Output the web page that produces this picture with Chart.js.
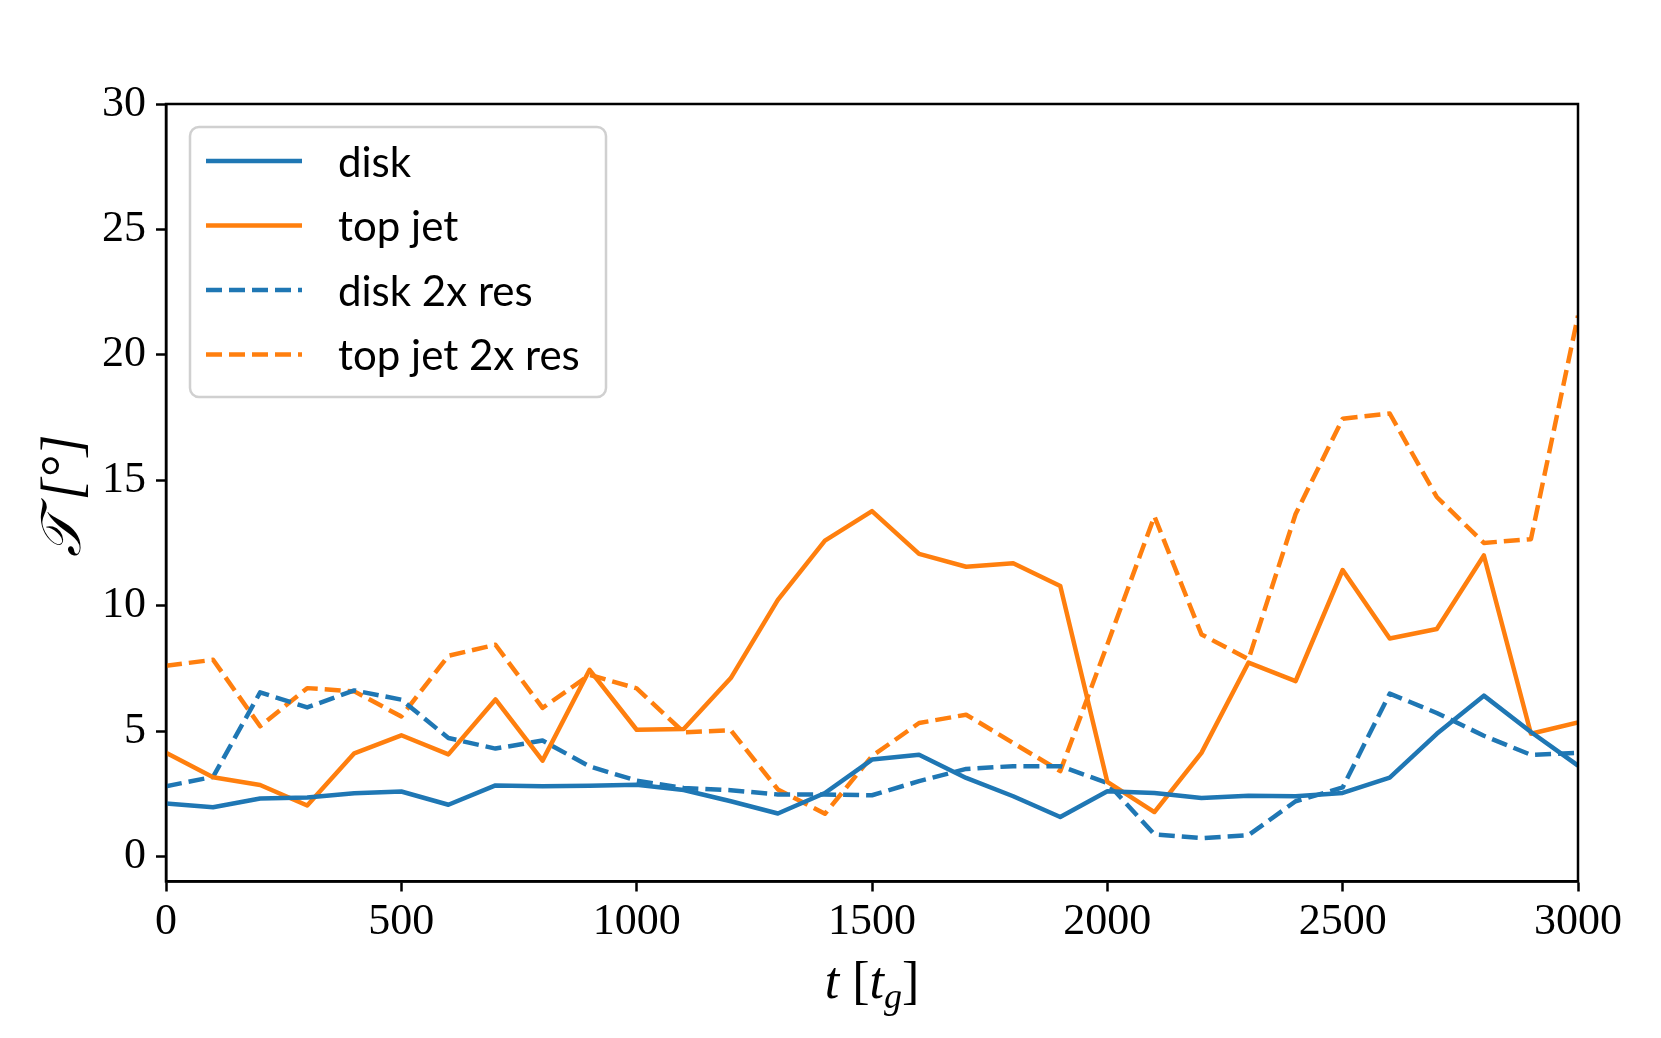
<!DOCTYPE html>
<html>
<head>
<meta charset="utf-8">
<script src="https://cdn.jsdelivr.net/npm/chart.js@4.4.1/dist/chart.umd.min.js"></script>
<style>
  html, body { margin: 0; padding: 0; background: #fff; }
  #wrap { width: 1661px; height: 1038px; }
</style>
</head>
<body>
<div id="wrap"><canvas id="chart" width="1661" height="1038"></canvas></div>
<script>
// time in t_g
const times = [0, 100, 200, 300, 400, 500, 600, 700, 800, 900, 1000,
               1100, 1200, 1300, 1400, 1500, 1600, 1700, 1800, 1900, 2000,
               2100, 2200, 2300, 2400, 2500, 2600, 2700, 2800, 2900, 3000];

// tilt angle in degrees
const disk = [2.11, 1.96, 2.31, 2.35, 2.52, 2.59, 2.06, 2.83, 2.80, 2.82, 2.86,
              2.65, 2.20, 1.71, 2.53, 3.86, 4.05, 3.13, 2.40, 1.57, 2.60,
              2.53, 2.33, 2.42, 2.40, 2.53, 3.14, 4.89, 6.41, 4.96, 3.62];
const topJet = [4.13, 3.16, 2.85, 2.03, 4.11, 4.83, 4.07, 6.26, 3.82, 7.44, 5.05,
                5.08, 7.11, 10.23, 12.59, 13.77, 12.06, 11.55, 11.69, 10.78, 2.97,
                1.77, 4.13, 7.73, 6.99, 11.42, 8.69, 9.07, 12.0, 4.89, 5.34];
const disk2x = [2.80, 3.17, 6.54, 5.94, 6.62, 6.25, 4.72, 4.30, 4.62, 3.59, 3.02,
                2.73, 2.64, 2.47, 2.47, 2.44, 3.00, 3.49, 3.60, 3.60, 2.93,
                0.88, 0.73, 0.85, 2.20, 2.75, 6.49, 5.72, 4.81, 4.05, 4.13];
const topJet2x = [7.60, 7.84, 5.19, 6.71, 6.58, 5.58, 8.00, 8.44, 5.92, 7.24, 6.70,
                  4.95, 5.03, 2.67, 1.70, 4.00, 5.32, 5.65, 4.52, 3.40, 8.45,
                  13.56, 8.85, 7.86, 13.65, 17.45, 17.66, 14.33, 12.50, 12.65, 21.56];

const xTicks = [0, 500, 1000, 1500, 2000, 2500, 3000];
const yTicks = [0, 5, 10, 15, 20, 25, 30];

const BLUE = '#1f77b4';
const ORANGE = '#ff7f0e';
const LW = 4.5;
const DASH = [16, 7];

function pts(vals) {
    return times.map((t, i) => ({ x: t, y: vals[i] }));
}

// box around the axes (matplotlib draws all four spines)
const frame = {
    id: 'frame',
    afterDraw(chart) {
        const { ctx, chartArea: a } = chart;
        ctx.save();
        ctx.strokeStyle = '#000';
        ctx.lineWidth = 2.5;
        ctx.strokeRect(a.left, a.top, a.right - a.left, a.bottom - a.top);
        ctx.restore();
    }
};

// legend box in the upper left corner
const boxLegend = {
    id: 'boxLegend',
    afterDraw(chart) {
        const ctx = chart.ctx;
        const x0 = 190, y0 = 127, w = 416, h = 270;
        ctx.save();
        ctx.fillStyle = 'rgba(255,255,255,0.8)';
        ctx.strokeStyle = '#d0d0d0';
        ctx.lineWidth = 2.5;
        ctx.beginPath();
        ctx.roundRect(x0, y0, w, h, 9);
        ctx.fill();
        ctx.stroke();
        const rows = [161, 225.5, 290, 354.5];
        ctx.font = '42px Lato';
        ctx.textBaseline = 'middle';
        chart.data.datasets.forEach((ds, i) => {
            const y = rows[i];
            ctx.strokeStyle = ds.borderColor;
            ctx.lineWidth = ds.borderWidth;
            ctx.setLineDash(ds.borderDash || []);
            ctx.beginPath();
            ctx.moveTo(206, y);
            ctx.lineTo(302, y);
            ctx.stroke();
            ctx.setLineDash([]);
            ctx.fillStyle = '#000';
            ctx.fillText(ds.label, 338, y + 2);
        });
        ctx.restore();
    }
};

// axis titles with italic / subscript parts
const axisTitles = {
    id: 'axisTitles',
    afterDraw(chart) {
        const { ctx, chartArea: a } = chart;
        ctx.save();
        ctx.fillStyle = '#000';
        ctx.textBaseline = 'alphabetic';

        // x title: t [t_g]
        const it = 'italic 52px "Liberation Serif"';
        const rm = '52px "Liberation Serif"';
        const sub = 'italic 36px "Liberation Serif"';
        const parts = [[it, 't', 0], [rm, ' [', 0], [it, 't', 0], [sub, 'g', 10], [rm, ']', 0]];
        let total = 0;
        parts.forEach(p => { ctx.font = p[0]; total += ctx.measureText(p[1]).width; });
        let x = (a.left + a.right) / 2 - total / 2;
        parts.forEach(p => {
            ctx.font = p[0];
            ctx.fillText(p[1], x, 998 + p[2]);
            x += ctx.measureText(p[1]).width;
        });

        // y title: T [°]
        ctx.translate(80, 496);
        ctx.rotate(-Math.PI / 2);
        ctx.textAlign = 'center';
        ctx.font = 'italic 56px "Liberation Serif"';
        ctx.fillText('\u{1D4AF} [\u00B0]', 0, 0);
        ctx.restore();
    }
};

new Chart(document.getElementById('chart'), {
    type: 'line',
    data: {
        datasets: [
            { label: 'disk', data: pts(disk), borderColor: BLUE, borderWidth: LW },
            { label: 'top jet', data: pts(topJet), borderColor: ORANGE, borderWidth: LW },
            { label: 'disk 2x res', data: pts(disk2x), borderColor: BLUE, borderWidth: LW, borderDash: DASH },
            { label: 'top jet 2x res', data: pts(topJet2x), borderColor: ORANGE, borderWidth: LW, borderDash: DASH }
        ]
    },
    options: {
        responsive: false,
        animation: false,
        devicePixelRatio: 1,
        elements: {
            point: { radius: 0 },
            line: { tension: 0, fill: false, borderCapStyle: 'butt', borderJoinStyle: 'round' }
        },
        layout: { padding: { top: 104, right: 83, left: 0, bottom: 0 } },
        plugins: {
            legend: { display: false },
            tooltip: { enabled: false }
        },
        scales: {
            x: {
                type: 'linear',
                min: 0,
                max: 3000,
                afterBuildTicks: axis => { axis.ticks = xTicks.map(v => ({ value: v })); },
                afterFit: scale => { scale.height = 156.5; },
                grid: { drawOnChartArea: false, drawTicks: true, tickLength: 10, tickWidth: 2.5, tickColor: '#000' },
                border: { display: true, color: '#000', width: 2.5 },
                ticks: {
                    color: '#000',
                    padding: 5,
                    maxRotation: 0,
                    callback: v => String(v),
                    font: { family: 'Liberation Serif', size: 44 }
                }
            },
            y: {
                min: -1,
                max: 30,
                afterBuildTicks: axis => { axis.ticks = yTicks.map(v => ({ value: v })); },
                afterFit: scale => { scale.width = 166; },
                grid: { drawOnChartArea: false, drawTicks: true, tickLength: 10, tickWidth: 2.5, tickColor: '#000' },
                border: { display: true, color: '#000', width: 2.5 },
                ticks: {
                    color: '#000',
                    padding: 10,
                    callback: v => String(v),
                    font: { family: 'Liberation Serif', size: 44 }
                }
            }
        }
    },
    plugins: [frame, boxLegend, axisTitles]
});
</script>
</body>
</html>
